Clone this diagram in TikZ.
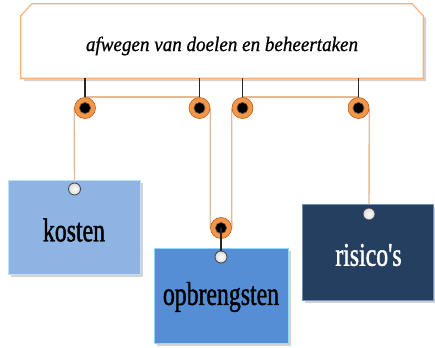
\documentclass[tikz,border=0pt]{standalone}
\usepackage{fontspec}
\setmainfont{Liberation Serif}
\newfontfamily\boxfont[FakeStretch=0.72,FakeBold=1.2]{Liberation Serif}
\newfontfamily\titlefont[FakeStretch=0.93,FakeBold=0.8]{Liberation Serif}
\usetikzlibrary{shadows,backgrounds}
\definecolor{tan}{RGB}{228,186,150}
\definecolor{orng}{RGB}{247,150,70}
\definecolor{orngdark}{RGB}{176,96,31}
\definecolor{titleborder}{RGB}{249,178,122}
\definecolor{kostenfill}{RGB}{141,180,226}
\definecolor{kostenborder}{RGB}{190,225,246}
\definecolor{opbrfill}{RGB}{85,142,213}
\definecolor{opbrborder}{RGB}{142,216,248}
\definecolor{risfill}{RGB}{36,63,96}
\definecolor{risborder}{RGB}{110,143,184}
\tikzset{
  softshadow/.style={drop shadow={shadow xshift=3pt, shadow yshift=-3pt, fill=black!35, opacity=0.5}},
  card/.style={rectangle, draw, line width=1pt, inner sep=0pt, softshadow},
  cardtext/.style={inner sep=0pt, font=\boxfont\fontsize{33}{36}\selectfont},
  hub/.style={circle, fill=orng, draw=orngdark, line width=0.6pt,
    minimum size=21pt, inner sep=0pt,
    path picture={\fill[black] (path picture bounding box.center) circle (5.3pt);
      \draw[black!70, line width=0.6pt] (path picture bounding box.center) circle (5.6pt);}},
  hook/.style={circle, draw=black!75, line width=0.8pt, inner sep=0pt, minimum size=12pt,
    inner color=white, outer color=black!15},
  tanline/.style={draw=tan, line width=1.4pt},
  blackline/.style={draw=black!85, line width=1.1pt},
}
\begin{document}
\begin{tikzpicture}[x=1pt,y=-1pt]
\useasboundingbox (0,0) rectangle (435,347);
% title box
\node[rectangle, minimum width=402pt, minimum height=74pt, inner sep=0pt] (top) at (222,41) {};
\path[fill=white, draw=titleborder, line width=1.2pt, softshadow]
  (top.south west) -- ([yshift=-12pt]top.north west) -- ([xshift=11pt]top.north west)
  -- ([xshift=-11pt]top.north east) -- ([yshift=-12pt]top.north east)
  -- (top.south east) -- cycle;
\node[font=\titlefont\itshape\fontsize{20.5}{24}\selectfont, inner sep=0pt] (title) at (222,46) {afwegen van doelen en beheertaken};
% cards
\node[card, fill=kostenfill, draw=kostenborder, minimum width=132pt, minimum height=94pt] (kosten) at (74,227) {};
\node[card, fill=opbrfill, draw=opbrborder, minimum width=134pt, minimum height=95pt] (opbr) at (221,295.5) {};
\node[card, fill=risfill, draw=risborder, minimum width=131pt, minimum height=96pt] (ris) at (367.5,252) {};
\node[cardtext, text=black] (kostenT) at (74,230) {kosten};
\node[cardtext, text=black] (opbrT) at (221,297) {opbrengsten};
\node[cardtext, text=white] (risT) at (368.5,255) {risico's};
% hubs
\node[hub] (c1) at (85,108) {};
\node[hub] (c2) at (199.5,108) {};
\node[hub] (c3) at (242.5,108) {};
\node[hub] (c4) at (358.5,108) {};
\node[hub] (c5) at (221,228) {};
% hooks
\node[hook] (w1) at (74.5,189) {};
\node[hook] (w4) at (369,214) {};
\node[hook] (w5) at (221,257) {};
\begin{pgfonlayer}{background}
  \draw[tanline] (c1.north) -- (c2.north);
  \draw[tanline] (c3.north) -- (c4.north);
  \draw[tanline] (c1.west) -- (w1.north);
  \draw[tanline] (c2.east) -- (c5.west);
  \draw[tanline] (c3.west) -- (c5.east);
  \draw[tanline] (c4.east) -- (w4.north);
\end{pgfonlayer}
\draw[blackline] (c1.north) -- (c1.north |- top.south);
\draw[blackline] (c2.north) -- (c2.north |- top.south);
\draw[blackline] (c3.north) -- (c3.north |- top.south);
\draw[blackline] (c4.north) -- (c4.north |- top.south);
\draw[blackline] (c5.center) -- (w5.north);
\end{tikzpicture}
\end{document}
